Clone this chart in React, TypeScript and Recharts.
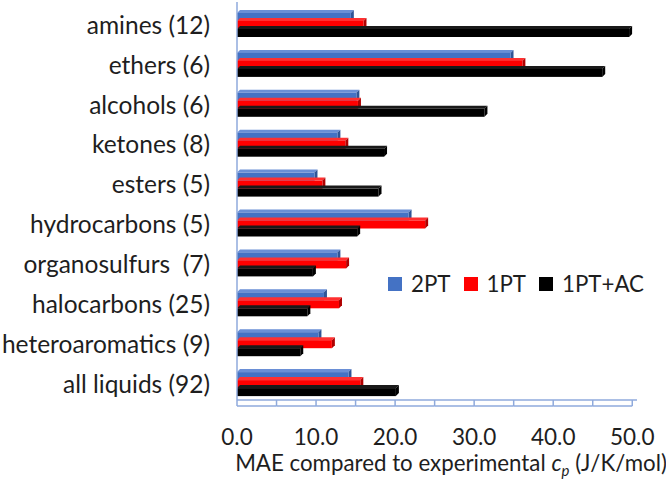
import React from 'react';
import { BarChart, Bar, XAxis, YAxis, Legend } from 'recharts';

const categories = [
  'amines (12)',
  'ethers (6)',
  'alcohols (6)',
  'ketones (8)',
  'esters (5)',
  'hydrocarbons (5)',
  'organosulfurs\u00a0 (7)',
  'halocarbons (25)',
  'heteroaromatics (9)',
  'all liquids (92)',
];
const values2PT = [14.4, 34.6, 15.1, 12.7, 9.8, 21.7, 12.7, 11.0, 10.3, 14.1];
const values1PT = [16.0, 36.1, 15.3, 13.7, 10.8, 23.8, 13.8, 12.9, 12.0, 15.6];
const values1PTAC = [49.6, 46.2, 31.3, 18.6, 17.9, 15.2, 9.6, 8.9, 8.0, 20.1];
const seriesNames = ['2PT', '1PT', '1PT+AC'];
const xTicks = [0, 5, 10, 15, 20, 25, 30, 35, 40, 45, 50];
const labelEvery = 10;

const data = categories.map((name, i) => ({
  name,
  s2PT: values2PT[i],
  s1PT: values1PT[i],
  s1PTAC: values1PTAC[i],
}));

const FONT = 'Lato, "Open Sans", sans-serif';
const WALL = '#8FAADC';
const TEXT = '#1e1e1e';
const DOMAIN: [number, number] = [0, 50.6];
const PLOT_WIDTH = 400;
const TICK_STEP_PX = ((xTicks[1] - xTicks[0]) * PLOT_WIDTH) / (DOMAIN[1] - DOMAIN[0]);

const Bar3D = (props: any) => {
  const { x, y, width, height, fill, topColor, sideColor } = props;
  if (!width || width <= 0) return null;
  const d = 3;
  return (
    <g>
      <polygon
        points={`${x},${y} ${x + d},${y - d} ${x + width + d},${y - d} ${x + width},${y}`}
        fill={topColor}
      />
      <polygon
        points={`${x + width},${y} ${x + width + d},${y - d} ${x + width + d},${y + height - d} ${x + width},${y + height}`}
        fill={sideColor}
      />
      <rect x={x} y={y} width={width} height={height} fill={fill} />
    </g>
  );
};

const CategoryTick = (props: any) => {
  const { x, y, payload } = props;
  return (
    <text
      x={x}
      y={y}
      dy="0.36em"
      textAnchor="end"
      fontFamily={FONT}
      fontSize={24.5}
      fill={TEXT}
      style={{ whiteSpace: 'pre' }}
    >
      {payload.value}
    </text>
  );
};

const FloorTick = (props: any) => {
  const { x, y, payload, index, visibleTicksCount } = props;
  const v = payload.value as number;
  const isLast = index === visibleTicksCount - 1;
  return (
    <g>
      <line x1={x} y1={y} x2={x} y2={y + 6} stroke={WALL} strokeWidth={1.5} />
      {!isLast && (
        <line x1={x} y1={y + 6} x2={x + TICK_STEP_PX} y2={y + 6} stroke={WALL} strokeWidth={1.5} />
      )}
      {v % labelEvery === 0 && (
        <text x={x} y={y + 45} textAnchor="middle" fontFamily={FONT} fontSize={22.5} fill={TEXT}>
          {v.toFixed(1)}
        </text>
      )}
    </g>
  );
};

const XLabel = (props: any) => {
  const { viewBox } = props;
  const cx = viewBox.x + viewBox.width / 2 + 14;
  const y = viewBox.y + 71;
  return (
    <text x={cx} y={y} textAnchor="middle" fontFamily={FONT} fontSize={22.3} fill={TEXT}>
      MAE compared to experimental{' '}
      <tspan fontStyle="italic">c</tspan>
      <tspan fontStyle="italic" fontSize={15} dy={5}>p</tspan>
      <tspan dy={-5}> (J/K/mol)</tspan>
    </text>
  );
};

const LegendContent = (props: any) => {
  const payload = [...(props.payload || [])].sort(
    (a: any, b: any) => seriesNames.indexOf(a.value) - seriesNames.indexOf(b.value)
  );
  return (
    <div style={{ display: 'flex', alignItems: 'center', fontFamily: FONT, fontSize: 22.3, color: TEXT, whiteSpace: 'nowrap' }}>
      {payload.map((e: any, i: number) => (
        <div key={i} style={{ display: 'flex', alignItems: 'center', marginRight: 13 }}>
          <span style={{ display: 'inline-block', width: 14, height: 14, background: e.color, marginRight: 9 }} />
          <span>{e.value}</span>
        </div>
      ))}
    </div>
  );
};

export default function App() {
  return (
    <div style={{ position: 'absolute', left: 0, top: 0, background: '#fff' }}>
      <BarChart
        width={666}
        height={486}
        data={data}
        layout="vertical"
        margin={{ top: 2, right: 29, bottom: 0, left: 0 }}
        barGap={0}
        barSize={8}
      >
        <YAxis
          yAxisId="cat"
          type="category"
          dataKey="name"
          width={237}
          axisLine={{ stroke: WALL, strokeWidth: 1.5 }}
          tickLine={false}
          tickSize={0}
          tickMargin={27}
          tick={<CategoryTick />}
          interval={0}
          padding={{ top: 3, bottom: -4 }}
        />
        <YAxis
          yAxisId="right"
          orientation="right"
          type="category"
          dataKey="name"
          width={0}
          axisLine={{ stroke: WALL, strokeWidth: 1.5 }}
          tickLine={false}
          tick={false}
        />
        <XAxis
          xAxisId="top"
          orientation="top"
          type="number"
          domain={DOMAIN}
          height={0}
          axisLine={{ stroke: WALL, strokeWidth: 1.5 }}
          tickLine={false}
          tick={false}
        />
        <XAxis
          xAxisId="a"
          type="number"
          domain={DOMAIN}
          ticks={xTicks}
          interval={0}
          height={86}
          axisLine={{ stroke: WALL, strokeWidth: 1.5 }}
          tickLine={false}
          tickSize={0}
          tickMargin={0}
          tick={<FloorTick />}
          label={<XLabel />}
        />
        <Legend
          verticalAlign="middle"
          align="center"
          layout="horizontal"
          content={<LegendContent />}
          wrapperStyle={{ position: 'absolute', left: 388, top: 270, width: 'auto' }}
        />
        <Bar
          yAxisId="cat"
          xAxisId="a"
          dataKey="s2PT"
          name={seriesNames[0]}
          fill="#4472C4"
          isAnimationActive={false}
          shape={(p: any) => <Bar3D {...p} topColor="#6A8FD6" sideColor="#2F5597" />}
        />
        <Bar
          yAxisId="cat"
          xAxisId="a"
          dataKey="s1PT"
          name={seriesNames[1]}
          fill="#FF0000"
          isAnimationActive={false}
          shape={(p: any) => <Bar3D {...p} topColor="#FF3030" sideColor="#B00000" />}
        />
        <Bar
          yAxisId="cat"
          xAxisId="a"
          dataKey="s1PTAC"
          name={seriesNames[2]}
          fill="#000000"
          isAnimationActive={false}
          shape={(p: any) => <Bar3D {...p} topColor="#1a1a1a" sideColor="#000000" />}
        />
      </BarChart>
    </div>
  );
}
